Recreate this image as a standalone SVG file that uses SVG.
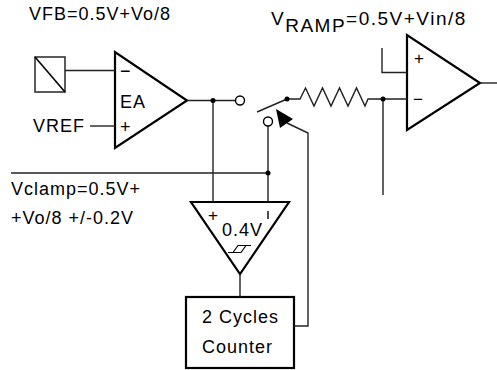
<svg xmlns="http://www.w3.org/2000/svg" width="497" height="370" viewBox="0 0 497 370">
<style>
.t{font-family:"Liberation Sans",Arial,sans-serif;font-size:18px;letter-spacing:1px;fill:#000}
.r{font-family:"Liberation Sans",Arial,sans-serif;font-size:19px;letter-spacing:1.5px;fill:#000}
.s{font-family:"Liberation Sans",Arial,sans-serif;font-size:17px;fill:#000}
.w{fill:none;stroke:#222;stroke-width:1.4}
.sh{fill:none;stroke:#000;stroke-width:2.2;stroke-linejoin:miter}
.dot{fill:#000}
.oc{fill:#fff;stroke:#000;stroke-width:1.4}
</style>
<rect width="497" height="370" fill="#fff"/>
<g id="labels">
<text class="t" x="29" y="20">VFB=0.5V+Vo/8</text>
<text class="r" x="271" y="25">V<tspan y="32">RAMP</tspan><tspan y="25">=0.5V+Vin/8</tspan></text>
<text class="t" x="11" y="195">Vclamp=0.5V+</text>
<text class="t" x="11" y="224">+Vo/8 +/-0.2V</text>
</g>
<g id="sensor">
<rect x="35" y="57" width="30" height="35" fill="none" stroke="#333" stroke-width="1.6"/>
<line x1="35" y1="57" x2="65" y2="92" stroke="#000" stroke-width="1.6"/>
</g>
<g id="ea">
<polygon class="sh" points="115,52 115,148 187,100.5"/>
<text class="t" x="120" y="108">EA</text>
<text class="t" x="120" y="77">−</text>
<text class="t" x="120" y="133">+</text>
<text class="t" x="33" y="132">VREF</text>
</g>
<g id="pwm">
<polygon class="sh" points="407,35 407,130 480,83"/>
<text class="s" x="414" y="64">+</text>
<text class="s" x="413" y="105">−</text>
</g>
<g id="comparator">
<polygon class="sh" points="191,202 289,202 240,274"/>
<text class="s" x="208" y="221">+</text>
<line x1="268" y1="211" x2="268" y2="219" stroke="#000" stroke-width="1.4"/>
<text class="t" x="222" y="236">0.4V</text>
<path d="M228,252.5 H241 L246,245.5 M233,252.5 L238,245.5 H251" fill="none" stroke="#000" stroke-width="1.2"/>
</g>
<g id="counter">
<rect x="186" y="297" width="108" height="71" class="sh"/>
<text class="t" x="202" y="323">2 Cycles</text>
<text class="t" x="202" y="353">Counter</text>
</g>
<g id="connectors">
<path class="w" d="M65,70.5 H115"/>
<path class="w" d="M90,126 H115"/>
<path class="w" d="M187,100.5 H236"/>
<path class="w" d="M213,100.5 V202"/>
<path class="w" d="M11,173 H268"/>
<path class="w" d="M268,125.5 V202"/>
<path class="w" d="M257,112 L287,99"/>
<path class="w" d="M287,99 H300 L305.5,88 L314,106 L322.5,88 L331,106 L339.5,88 L348,106 L356.5,88 L365,106 L368,99 H407"/>
<path class="w" d="M383,99 V195"/>
<path class="w" d="M382,48 V72.5 H407"/>
<path class="w" d="M480,83 H497"/>
<path class="w" d="M240,274 V297"/>
<path class="w" d="M294,326 H308 V133 L287,123"/>
<polygon points="276,109 280,128 293,119" fill="#000"/>
<circle class="dot" cx="213" cy="100.5" r="2.5"/>
<circle class="dot" cx="268" cy="173" r="2.5"/>
<circle class="dot" cx="287" cy="99" r="2.5"/>
<circle class="dot" cx="383" cy="99" r="2.5"/>
<circle class="oc" cx="240" cy="100.5" r="4.5"/>
<circle class="oc" cx="268" cy="121.5" r="4.5"/>
</g>
</svg>
